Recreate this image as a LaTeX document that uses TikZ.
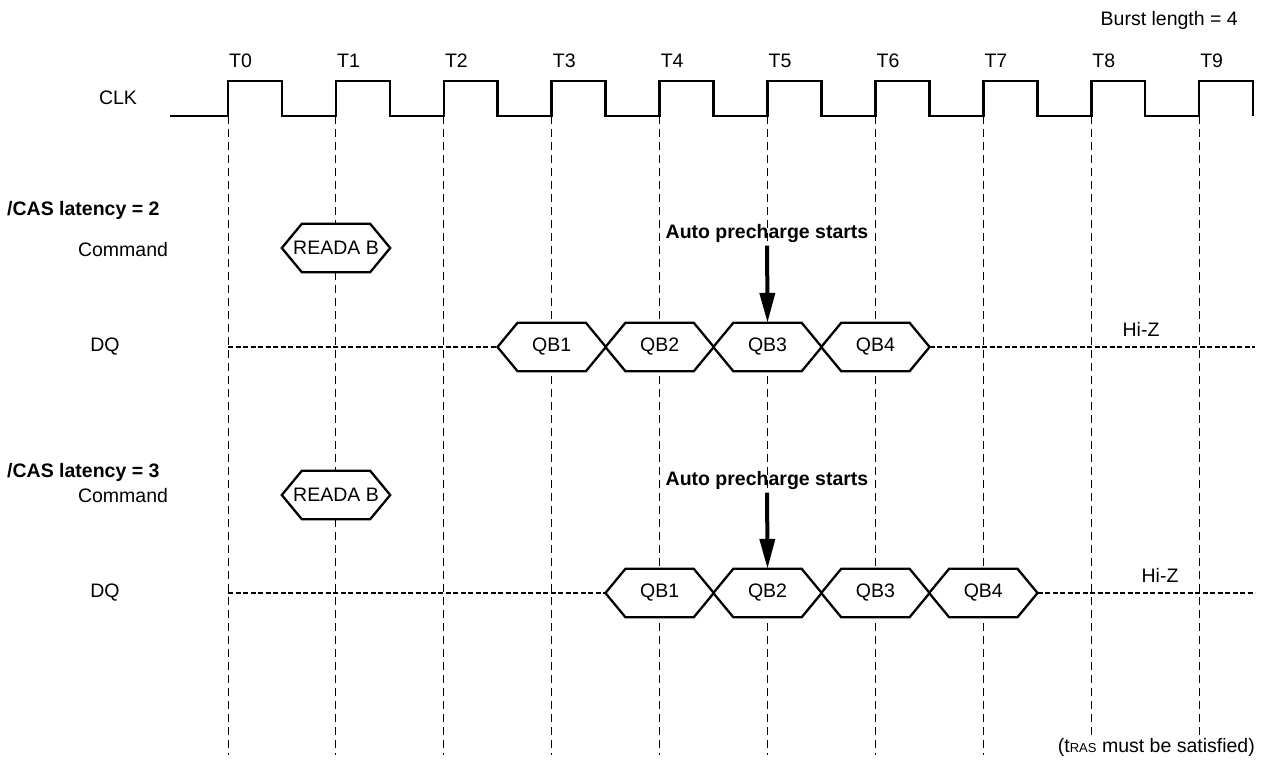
\documentclass[tikz,border=0pt]{standalone}
\usepackage{fontspec}
\setmainfont{Liberation Sans}
\usetikzlibrary{arrows.meta}

\begin{document}
\begin{tikzpicture}[x=1pt,y=-1pt,font=\fontsize{19.5}{23}\selectfont]
    \tikzstyle{clk}=[line width=2.6pt,line join=miter]
    \tikzstyle{tick}=[dash pattern=on 8pt off 5pt,line width=0.9pt]
    \tikzstyle{hiz}=[dash pattern=on 5pt off 2.5pt,line width=2pt]
    \tikzstyle{bus}=[line width=2.3pt,line join=miter]
    \tikzstyle{val}=[minimum width=108pt,minimum height=48pt,inner sep=0pt]
    \tikzstyle{lbl}=[inner sep=0pt]
    \tikzstyle{push}=[line width=4pt,-{Triangle[length=30pt,width=15pt]}]
    \useasboundingbox (0,0) rectangle (1265,765);

    % clock
    \draw[clk] (170,116) -- (228,116)
        \foreach \i in {0,...,8} { -- ++(0,-35) -- ++(53.95,0) -- ++(0,35) -- ++(53.95,0) }
        -- ++(0,-35) -- ++(53.95,0) -- ++(0,35);

    \foreach \i in {0,...,9} {
        \coordinate (E\i) at (228+107.9*\i,116);
        \coordinate (B\i) at (228+107.9*\i,755);
        \node[lbl,anchor=base west] (T\i) at (229+107.9*\i,68) {T\i};
        \draw[tick] (E\i) -- (B\i);
    }

    % signal names
    \node[lbl,anchor=east] (burst) at (1238,20) {Burst length = 4};
    \node (clk) at (118,98) {CLK};
    \node[lbl,anchor=west] (cas2) at (7,210) {\bfseries /CAS latency = 2};
    \node (cmda) at (123,250) {Command};
    \node (dqa) at (105,347) {DQ};
    \node[lbl,anchor=west] (cas3) at (7,472) {\bfseries /CAS latency = 3};
    \node (cmdb) at (123,496) {Command};
    \node (dqb) at (105,593) {DQ};

    % bus values
    \node[val] (rda) at (336,248) {};
    \node[val] (rdb) at (336,495) {};
    \foreach \n/\c in {1/551.7,2/659.6,3/767.5,4/875.4}
        \node[val] (qa\n) at (\c,347) {};
    \foreach \n/\c in {1/659.6,2/767.5,3/875.4,4/983.3}
        \node[val] (qb\n) at (\c,593) {};
    \foreach \q in {rda,rdb,qa1,qa2,qa3,qa4,qb1,qb2,qb3,qb4}
        \fill[white] (\q.west) -- ([xshift=20pt]\q.north west) -- ([xshift=-20pt]\q.north east)
            -- (\q.east) -- ([xshift=-20pt]\q.south east) -- ([xshift=20pt]\q.south west) -- cycle;
    \foreach \q in {rda,rdb,qa1,qa2,qa3,qa4,qb1,qb2,qb3,qb4}
        \draw[bus] (\q.west) -- ([xshift=20pt]\q.north west) -- ([xshift=-20pt]\q.north east)
            -- (\q.east) -- ([xshift=-20pt]\q.south east) -- ([xshift=20pt]\q.south west) -- cycle;
    \node (rda-t) at (rda) {READA B};
    \node (rdb-t) at (rdb) {READA B};
    \foreach \n in {1,...,4} {
        \node (qa\n-t) at (qa\n) {QB\n};
        \node (qb\n-t) at (qb\n) {QB\n};
    }

    % Hi-Z
    \coordinate (za) at (228,347);
    \coordinate (zea) at (1255,347);
    \coordinate (zb) at (228,593);
    \coordinate (zeb) at (1255,593);
    \draw[hiz] (za) -- (qa1.west);
    \draw[hiz] (qa4.east) -- (zea);
    \draw[hiz] (zb) -- (qb1.west);
    \draw[hiz] (qb4.east) -- (zeb);
    \node (hza) at (1141,329) {Hi-Z};
    \node (hzb) at (1160,575) {Hi-Z};

    % auto precharge
    \node (autoa) at (767,233) {\bfseries Auto precharge starts};
    \node (autob) at (767,480) {\bfseries Auto precharge starts};
    \draw[push] (autoa) -- (qa3.north);
    \draw[push] (autob) -- (qb2.north);

    \node[fill=white,inner sep=3pt,anchor=east] (tras) at (1258,747) {(t{\fontsize{13}{15}\selectfont RAS} must be satisfied)};
\end{tikzpicture}
\end{document}
